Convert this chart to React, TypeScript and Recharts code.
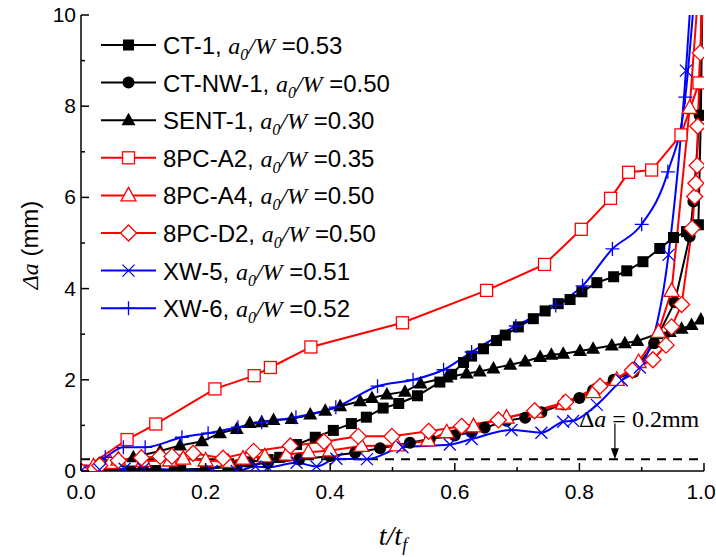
import React from "react";
import { LineChart, Line, XAxis, YAxis, ReferenceLine, Legend } from "recharts";

// [t/tf, Δa (mm)]
const ct1: number[][] = [
  [0, 0], [0.04, 0], [0.08, 0], [0.12, 0.01], [0.16, 0.02], [0.2, 0.05], [0.236, 0.12], [0.27, 0.2],
  [0.3, 0.25], [0.319, 0.3], [0.346, 0.58], [0.376, 0.74], [0.405, 0.89], [0.434, 1.04], [0.458, 1.18],
  [0.485, 1.38], [0.51, 1.48], [0.54, 1.65], [0.576, 1.95], [0.595, 2.12], [0.614, 2.38], [0.627, 2.52],
  [0.646, 2.68], [0.667, 2.86], [0.681, 2.98], [0.702, 3.16], [0.726, 3.34], [0.745, 3.51], [0.766, 3.67],
  [0.785, 3.76], [0.804, 3.93], [0.828, 4.13], [0.855, 4.26], [0.876, 4.39], [0.902, 4.59], [0.929, 4.88],
  [0.951, 5.12], [0.972, 5.25], [0.991, 5.4], [0.995, 7.8], [0.997, 10],
];
const ctnw1: number[][] = [
  [0, 0], [0.05, 0.02], [0.1, 0.02], [0.15, 0.03], [0.2, 0.05], [0.25, 0.1], [0.3, 0.18], [0.35, 0.25],
  [0.4, 0.33], [0.44, 0.4], [0.48, 0.5], [0.528, 0.62], [0.56, 0.7], [0.6, 0.78], [0.627, 0.85],
  [0.648, 0.95], [0.683, 1.1], [0.713, 1.17], [0.739, 1.29], [0.774, 1.46], [0.8, 1.6], [0.822, 1.77],
  [0.855, 2.0], [0.887, 2.17], [0.92, 2.8], [0.953, 3.7], [0.977, 5.14], [0.983, 5.91], [0.993, 7.8],
  [0.996, 10],
];
const sent1: number[][] = [
  [0, 0], [0.04, 0.12], [0.06, 0.2], [0.084, 0.3], [0.127, 0.44], [0.159, 0.56], [0.194, 0.65],
  [0.223, 0.83], [0.25, 0.92], [0.271, 1.05], [0.29, 1.07], [0.309, 1.12], [0.338, 1.14], [0.368, 1.24],
  [0.392, 1.32], [0.416, 1.42], [0.448, 1.53], [0.467, 1.6], [0.491, 1.68], [0.52, 1.74], [0.545, 1.92],
  [0.587, 2.05], [0.619, 2.14], [0.64, 2.18], [0.662, 2.25], [0.689, 2.33], [0.713, 2.4], [0.737, 2.5],
  [0.755, 2.55], [0.774, 2.57], [0.801, 2.63], [0.822, 2.68], [0.852, 2.75], [0.873, 2.8], [0.893, 2.85],
  [0.924, 3.0], [0.945, 3.05], [0.964, 3.12], [0.98, 3.2], [0.995, 3.32],
];
const a2: number[][] = [
  [0, 0], [0.074, 0.69], [0.12, 1.03], [0.215, 1.8], [0.278, 2.09], [0.304, 2.27], [0.369, 2.72],
  [0.516, 3.25], [0.651, 3.96], [0.744, 4.53], [0.803, 5.3], [0.85, 5.98], [0.879, 6.55], [0.916, 6.6],
  [0.963, 7.37], [0.992, 8.51], [0.997, 10],
];
const a4: number[][] = [
  [0, 0], [0.02, 0.1], [0.047, 0.18], [0.06, 0.25], [0.1, 0.22], [0.143, 0.23], [0.164, 0.27], [0.2, 0.23],
  [0.236, 0.2], [0.26, 0.27], [0.295, 0.32], [0.33, 0.36], [0.365, 0.41], [0.4, 0.45], [0.45, 0.55],
  [0.507, 0.56], [0.557, 0.67], [0.587, 0.85], [0.63, 0.98], [0.683, 1.17], [0.73, 1.3], [0.774, 1.48],
  [0.822, 1.73], [0.86, 2.0], [0.895, 2.39], [0.927, 3.05], [0.948, 3.95], [0.977, 7.96], [0.988, 10],
];
const d2: number[][] = [
  [0, 0], [0.03, 0.12], [0.06, 0.23], [0.097, 0.29], [0.127, 0.32], [0.146, 0.32], [0.18, 0.39],
  [0.228, 0.28], [0.277, 0.43], [0.336, 0.55], [0.39, 0.64], [0.445, 0.76], [0.499, 0.76], [0.558, 0.87],
  [0.611, 0.98], [0.67, 1.12], [0.728, 1.32], [0.778, 1.51], [0.833, 1.86], [0.885, 2.21], [0.918, 2.44],
  [0.939, 2.76], [0.948, 3.16], [0.964, 3.65], [0.981, 5.32], [0.985, 6.02], [0.987, 6.31], [0.989, 6.7],
  [0.99, 7.56], [0.994, 9.17], [0.996, 10],
];
const xw5: number[][] = [
  [0, 0], [0.03, 0.03], [0.07, 0.05], [0.1, 0.05], [0.21, 0.0], [0.25, 0.0], [0.28, 0.1], [0.3, 0.08],
  [0.346, 0.18], [0.378, 0.1], [0.41, 0.27], [0.459, 0.26], [0.516, 0.52], [0.592, 0.58], [0.627, 0.7],
  [0.691, 0.9], [0.739, 0.84], [0.774, 1.08], [0.79, 1.1], [0.828, 1.45], [0.868, 1.99], [0.897, 2.27],
  [0.943, 4.74], [0.971, 8.78], [0.977, 10],
];
const xw6: number[][] = [
  [0, 0], [0.039, 0.3], [0.068, 0.52], [0.103, 0.52], [0.162, 0.74], [0.204, 0.83], [0.252, 0.96],
  [0.29, 1.07], [0.345, 1.18], [0.409, 1.4], [0.476, 1.86], [0.533, 2.0], [0.582, 2.22], [0.627, 2.61],
  [0.698, 3.18], [0.762, 3.63], [0.805, 4.06], [0.853, 4.87], [0.9, 5.41], [0.942, 6.56], [0.97, 8.2],
  [0.982, 10],
];

const names = ["CT-1", "CT-NW-1", "SENT-1", "8PC-A2", "8PC-A4", "8PC-D2", "XW-5", "XW-6"];
const ratios = ["0.53", "0.50", "0.30", "0.35", "0.50", "0.50", "0.51", "0.52"];
const xTicks = [0, 0.1, 0.2, 0.3, 0.4, 0.5, 0.6, 0.7, 0.8, 0.9, 1.0];
const yTicks = [0, 1, 2, 3, 4, 5, 6, 7, 8, 9, 10];
const thresholdDa = 0.26;
const arrowAt = { x: 0.857, top: 1.04 };

const series = [
  { data: ct1, color: "#000", kind: "square", curve: "linear" },
  { data: ctnw1, color: "#000", kind: "circle", curve: "linear" },
  { data: sent1, color: "#000", kind: "triangle", curve: "linear" },
  { data: a2, color: "#ff0000", kind: "osquare", curve: "linear" },
  { data: a4, color: "#ff0000", kind: "otriangle", curve: "linear" },
  { data: d2, color: "#ff0000", kind: "odiamond", curve: "linear" },
  { data: xw5, color: "#0000ff", kind: "cross", curve: "monotone" },
  { data: xw6, color: "#0000ff", kind: "plus", curve: "monotone" },
].map((s, i) => ({ ...s, name: names[i], ratio: ratios[i], points: s.data.map(([x, y]) => ({ x, y })) }));

const SANS = "'Liberation Sans', Arial, sans-serif";
const SERIF = "'Liberation Serif', 'Times New Roman', serif";

function Marker({ kind, cx, cy }: { kind: string; cx: number; cy: number }) {
  switch (kind) {
    case "square":
      return <rect x={cx - 5.5} y={cy - 5.5} width={11} height={11} fill="#000" />;
    case "circle":
      return <circle cx={cx} cy={cy} r={6} fill="#000" />;
    case "triangle":
      return <polygon points={`${cx},${cy - 7.5} ${cx + 7},${cy + 5} ${cx - 7},${cy + 5}`} fill="#000" />;
    case "osquare":
      return <rect x={cx - 6} y={cy - 6} width={12} height={12} fill="#fff" stroke="#ff0000" strokeWidth={1.3} />;
    case "otriangle":
      return <polygon points={`${cx},${cy - 8} ${cx + 7.5},${cy + 5.5} ${cx - 7.5},${cy + 5.5}`} fill="#fff" stroke="#ff0000" strokeWidth={1.3} />;
    case "odiamond":
      return <polygon points={`${cx},${cy - 8} ${cx + 8},${cy} ${cx},${cy + 8} ${cx - 8},${cy}`} fill="#fff" stroke="#ff0000" strokeWidth={1.3} />;
    case "cross":
      return <path d={`M${cx - 6},${cy - 6}L${cx + 6},${cy + 6}M${cx - 6},${cy + 6}L${cx + 6},${cy - 6}`} stroke="#0000ff" strokeWidth={1.3} />;
    case "plus":
      return <path d={`M${cx - 7},${cy}H${cx + 7}M${cx},${cy - 7}V${cy + 7}`} stroke="#0000ff" strokeWidth={1.3} />;
  }
  return null;
}

const isMajor = (v: number, step: number) => Math.abs(Math.round(v / step) - v / step) < 1e-6;

const BottomTick = (p: any) => {
  const v = p.payload.value;
  const major = isMajor(v, 0.2);
  // the last label sits against the right edge, nudge it in a little
  const lx = v >= 1 ? p.x - 3 : p.x;
  return (
    <g>
      <line x1={p.x} x2={p.x} y1={p.y} y2={p.y - (major ? 8 : 4)} stroke="#000" strokeWidth={1.5} />
      {major && (
        <text x={lx} y={p.y + 28} textAnchor="middle" fontFamily={SANS} fontSize={21} fill="#000">
          {v.toFixed(1)}
        </text>
      )}
    </g>
  );
};
const TopTick = (p: any) => {
  const major = isMajor(p.payload.value, 0.2);
  return <line x1={p.x} x2={p.x} y1={p.y} y2={p.y + (major ? 8 : 4)} stroke="#000" strokeWidth={1.5} />;
};
const LeftTick = (p: any) => {
  const v = p.payload.value;
  const major = isMajor(v, 2);
  return (
    <g>
      <line x1={p.x} x2={p.x + (major ? 8 : 4)} y1={p.y} y2={p.y} stroke="#000" strokeWidth={1.5} />
      {major && (
        <text x={p.x - 5} y={p.y + 7} textAnchor="end" fontFamily={SANS} fontSize={21} fill="#000">
          {v}
        </text>
      )}
    </g>
  );
};
const RightTick = (p: any) => {
  const major = isMajor(p.payload.value, 2);
  return <line x1={p.x} x2={p.x - (major ? 8 : 4)} y1={p.y} y2={p.y} stroke="#000" strokeWidth={1.5} />;
};

const Arrow = (p: any) => {
  const { x1, y1, x2, y2 } = p;
  return (
    <g>
      <line x1={x1} y1={y1} x2={x2} y2={y2 - 9} stroke="#000" strokeWidth={1.2} />
      <polygon points={`${x2 - 4},${y2 - 11} ${x2 + 4},${y2 - 11} ${x2},${y2}`} fill="#000" />
      <text x={x1 - 36} y={y1 + 3} fontFamily={SERIF} fontSize={24} fill="#000">
        Δ<tspan fontStyle="italic">a</tspan> = 0.2mm
      </text>
    </g>
  );
};

const LegendBox = () => (
  <svg width={420} height={330} style={{ display: "block" }}>
    {series.map((s, i) => {
      const cy = 45 + i * 37.6;
      return (
        <g key={s.name}>
          <line x1={101} x2={156} y1={cy} y2={cy} stroke={s.color} strokeWidth={2} />
          <Marker kind={s.kind} cx={128.5} cy={cy} />
          <text x={163} y={cy + 9} fontFamily={SANS} fontSize={24} fill="#000">
            {s.name + ", "}
            <tspan fontFamily={SERIF} fontStyle="italic">a</tspan>
            <tspan fontFamily={SERIF} fontStyle="italic" fontSize={16} dy={6}>0</tspan>
            <tspan fontFamily={SERIF} fontStyle="italic" dy={-6}>/W</tspan>
            {" =" + s.ratio}
          </text>
        </g>
      );
    })}
  </svg>
);

export default function App() {
  return (
    <div style={{ position: "absolute", left: 0, top: 0, background: "#fff" }}>
      <LineChart width={716} height={557} margin={{ top: 15, right: 12, bottom: 0, left: 0 }}>
        <XAxis
          dataKey="x" type="number" domain={[0, 1]} ticks={xTicks} interval={0} height={86}
          allowDataOverflow tickLine={false} tickSize={0} tickMargin={0} tick={<BottomTick />}
          axisLine={{ stroke: "#000", strokeWidth: 1.5 }}
          label={{
            content: () => (
              <text x={393} y={545} textAnchor="middle" fontFamily={SERIF} fontStyle="italic" fontSize={28} fill="#000">
                t/t<tspan fontSize={18} dy={6}>f</tspan>
              </text>
            ),
          }}
        />
        <XAxis
          xAxisId="top" orientation="top" dataKey="x" type="number" domain={[0, 1]} ticks={xTicks} interval={0}
          height={0} allowDataOverflow tickLine={false} tickSize={0} tickMargin={0} tick={<TopTick />}
          axisLine={{ stroke: "#000", strokeWidth: 1.5 }}
        />
        <YAxis
          type="number" domain={[0, 10]} ticks={yTicks} interval={0} width={81} allowDataOverflow
          tickLine={false} tickSize={0} tickMargin={0} tick={<LeftTick />}
          axisLine={{ stroke: "#000", strokeWidth: 1.5 }}
          label={{
            content: () => (
              <text x={38} y={245} textAnchor="middle" transform="rotate(-90, 38, 245)" fontFamily={SANS} fontSize={24} fill="#000">
                <tspan fontFamily={SERIF} fontStyle="italic">Δa</tspan> (mm)
              </text>
            ),
          }}
        />
        <YAxis
          yAxisId="right" orientation="right" type="number" domain={[0, 10]} ticks={yTicks} interval={0} width={0}
          allowDataOverflow tickLine={false} tickSize={0} tickMargin={0} tick={<RightTick />}
          axisLine={{ stroke: "#000", strokeWidth: 1.5 }}
        />
        <ReferenceLine y={thresholdDa} stroke="#000" strokeWidth={2} strokeDasharray="9 7" />
        <ReferenceLine
          segment={[{ x: arrowAt.x, y: arrowAt.top }, { x: arrowAt.x, y: thresholdDa }]}
          shape={(p: any) => <Arrow {...p} />}
        />
        {series.map((s) => (
          <Line
            key={s.name}
            data={s.points}
            dataKey="y"
            name={s.name}
            type={s.curve as any}
            stroke={s.color}
            strokeWidth={2}
            isAnimationActive={false}
            activeDot={false}
            dot={(p: any) =>
              p.payload.y >= 10 ? <g key={p.index} /> : (
                <g key={p.index}>
                  <Marker kind={s.kind} cx={p.cx} cy={p.cy} />
                </g>
              )
            }
          />
        ))}
        <Legend
          layout="vertical" align="center" verticalAlign="middle"
          wrapperStyle={{ left: 0, top: 0, width: 420, height: 330 }}
          content={() => <LegendBox />}
        />
      </LineChart>
    </div>
  );
}
